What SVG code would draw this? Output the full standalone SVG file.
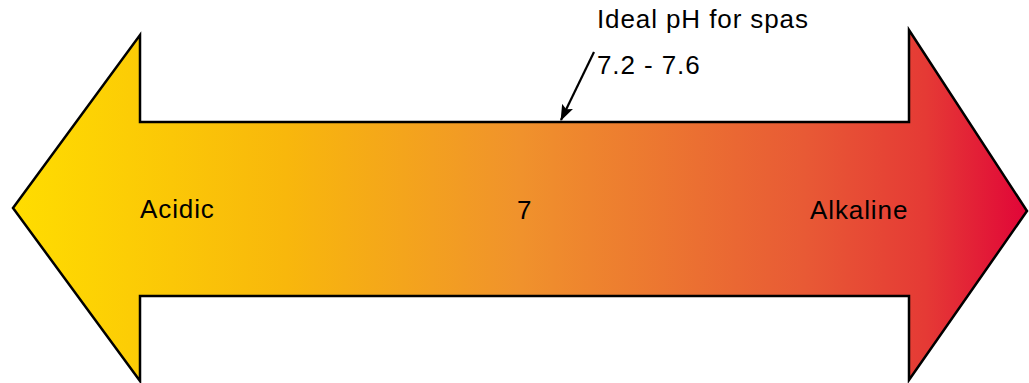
<svg xmlns="http://www.w3.org/2000/svg" width="1029" height="383" viewBox="0 0 1029 383">
  <style>
    .lbl { font-family: "Liberation Sans", Arial, sans-serif; font-size: 26px; letter-spacing: 0.9px; fill: #000; }
  </style>
  <defs>
    <linearGradient id="ph" gradientUnits="userSpaceOnUse" x1="13" y1="0" x2="1027" y2="0">
      <stop offset="0" stop-color="#FFDD00"/>
      <stop offset="0.27" stop-color="#F8B70C"/>
      <stop offset="0.5" stop-color="#F0922C"/>
      <stop offset="0.78" stop-color="#E85A35"/>
      <stop offset="0.9" stop-color="#E53A35"/>
      <stop offset="1" stop-color="#E10538"/>
    </linearGradient>
    <marker id="ah" viewBox="0 0 16 12" refX="15" refY="6" markerWidth="16" markerHeight="12" orient="auto" markerUnits="userSpaceOnUse">
      <path d="M0,0 L16,6 L0,12 L3,6 Z" fill="#000"/>
    </marker>
  </defs>
  <g id="scale-arrow">
    <path d="M13,208 L140,35 L140,122 L909,122 L909,30 L1027,211 L909,380 L909,296 L140,296 L140,381 Z" fill="url(#ph)" stroke="#000" stroke-width="2.5" stroke-linejoin="miter"/>
  </g>
  <g id="acidic"><text class="lbl" x="140" y="218">Acidic</text></g>
  <g id="neutral"><text class="lbl" x="517" y="219">7</text></g>
  <g id="alkaline"><text class="lbl" x="810" y="219">Alkaline</text></g>
  <g id="ideal">
    <text class="lbl" x="597" y="28">Ideal pH for spas</text>
    <text class="lbl" x="597" y="74">7.2 - 7.6</text>
  </g>
  <g id="connectors">
    <line x1="594" y1="52" x2="561" y2="120" stroke="#000" stroke-width="2.2" marker-end="url(#ah)"/>
  </g>
</svg>
